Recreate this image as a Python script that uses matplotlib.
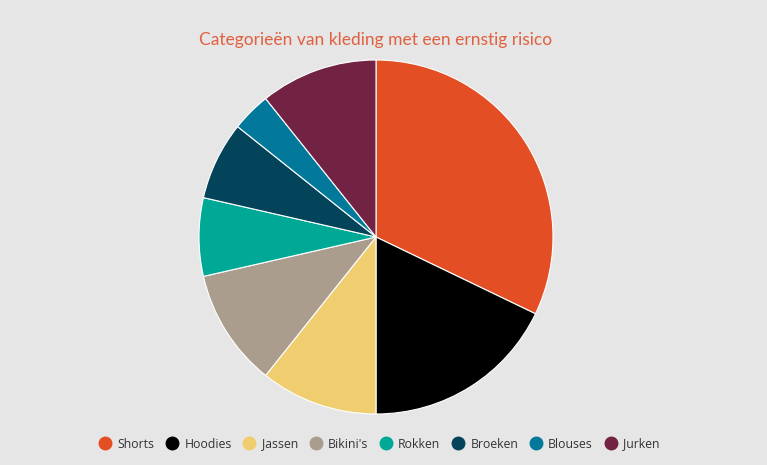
import matplotlib
matplotlib.use("Agg")
import matplotlib.pyplot as plt
from matplotlib.lines import Line2D

categories = ["Shorts", "Hoodies", "Jassen", "Bikini's", "Rokken", "Broeken", "Blouses", "Jurken"]
values = [9, 5, 3, 3, 2, 2, 1, 3]
colors = ["#e44e24", "#000000", "#f0cd6e", "#aa9d8d", "#00a896", "#03445a", "#02789b", "#722242"]
title = "Categorieën van kleding met een ernstig risico"

bg = "#e6e6e6"
fig = plt.figure(figsize=(7.67, 4.65), dpi=100, facecolor=bg)
ax = fig.add_axes([(376 - 177) / 767, (465 - 237 - 177) / 465, 354 / 767, 354 / 465])
ax.set_facecolor(bg)
ax.pie(values, colors=colors, startangle=90, counterclock=False, radius=1,
       wedgeprops=dict(edgecolor="white", linewidth=0.8))
ax.set_xlim(-1, 1)
ax.set_ylim(-1, 1)
ax.set_aspect("auto")
ax.axis("off")

fig.text(376 / 767, 1 - 40 / 465, title, ha="center", va="center",
         color="#e0603f", fontsize=12.5, family=["Lato", "DejaVu Sans"])

handles = [Line2D([0], [0], marker="o", linestyle="none", markersize=9,
                  markerfacecolor=c, markeredgecolor=c) for c in colors]
fig.legend(handles, categories, loc="center", bbox_to_anchor=(378 / 767, 1 - 444 / 465),
           ncol=len(categories), frameon=False, handletextpad=0.3, columnspacing=0.75,
           handlelength=1.4,
           prop=dict(family=["Open Sans", "DejaVu Sans"], size=8.8), labelcolor="#333333")

fig.savefig("out.png", dpi=100, facecolor=bg)
